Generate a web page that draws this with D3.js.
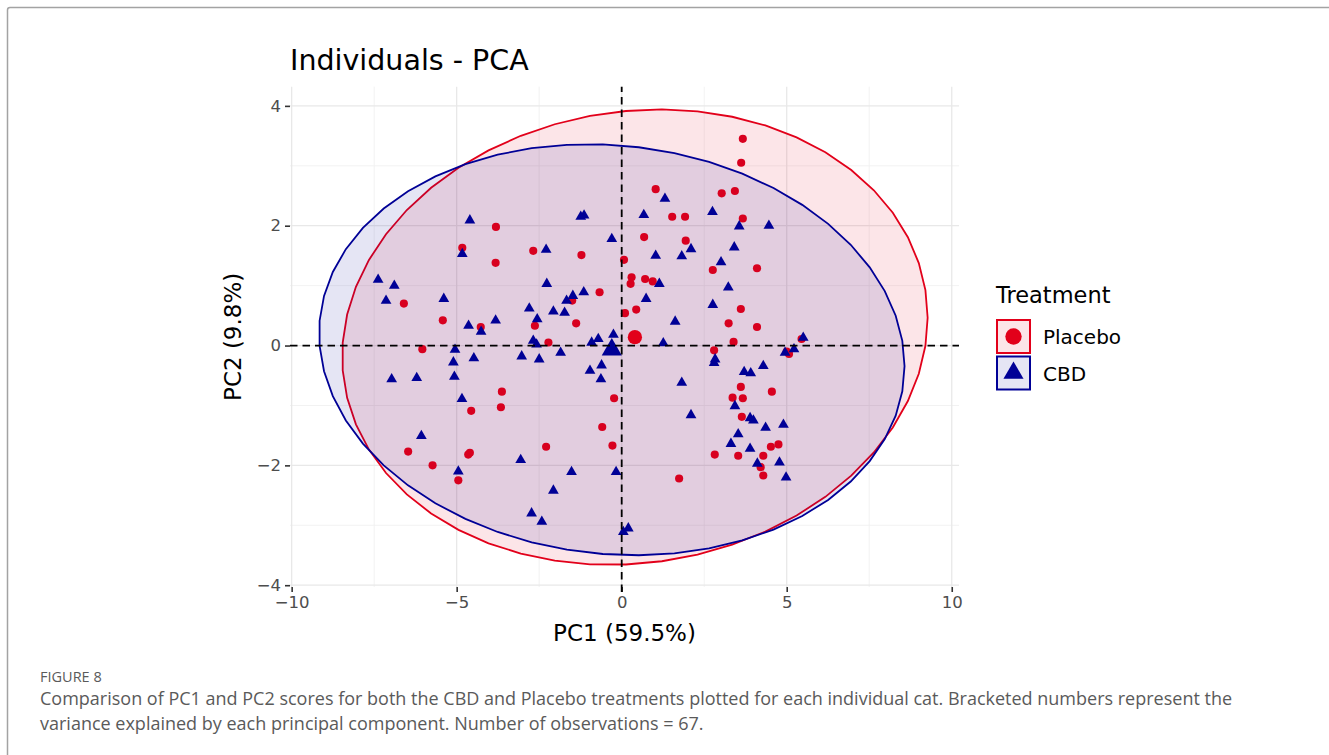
<!DOCTYPE html>
<html lang="en">
<head>
  <meta charset="utf-8">
  <title>Individuals - PCA</title>
  <script src="https://d3js.org/d3.v7.min.js"></script>
  <style>
    body { margin: 0; background: #fff; }
    svg { display: block; }
  </style>
</head>
<body>
<svg id="chart" width="1329" height="755"></svg>
<script>
// scores
const placeboPC1 = [-6.60, -5.42, -3.81, -4.83, -3.82, -2.68, -1.22, 0.07, -2.63, -1.50, -0.67, -1.38, -4.27, 0.10, -2.22, -6.04,
  -4.56, -3.63, -3.66, -6.47, -5.73, -4.65, -4.60, -4.95, -2.29, -0.23, -0.59, -0.28,
  3.67, 3.62, 1.03, 3.03, 3.43, 1.53, 1.92, 3.67, 0.68, 1.94, 2.76, 4.10, 0.30, 0.27, 0.71, 0.94, 3.61, 0.44, 3.24, 4.10, 3.39,
  2.80, 4.55, 3.61, 3.36, 3.67, 3.64, 2.82, 3.53, 4.29, 4.52, 4.75, 4.21, 4.29, 1.74, 5.00, 5.07, 5.45];
const placeboPC2 = [0.70, 0.42, 1.98, 1.63, 1.38, 1.58, 1.51, 1.43, 0.33, 0.75, 0.89, 0.37, 0.31, 0.54, 0.05, -0.06,
  -1.09, -0.77, -1.03, -1.77, -2.00, -1.82, -1.79, -2.25, -1.69, -0.88, -1.36, -1.67,
  3.45, 3.05, 2.61, 2.54, 2.58, 2.15, 2.15, 2.12, 1.81, 1.75, 1.26, 1.29, 1.14, 1.03, 1.11, 1.07, 0.61, 0.60, 0.37, 0.31, 0.06,
  -0.08, -0.77, -0.69, -0.87, -0.88, -1.19, -1.82, -1.84, -1.84, -1.69, -1.65, -2.03, -2.17, -2.22, -0.10, -0.14, 0.11];

const cbdPC1 = [-7.38, -6.89, -7.14, -5.39, -4.60, -4.83, -2.29, -1.24, -1.14, -0.30, -2.27, -2.80, -2.56, -2.07, -1.73, -1.67,
  -1.48, -1.15, -4.64, -4.26, -3.82, -2.68, -2.58, -0.91, -0.71, -0.25,
  -5.05, -5.10, -5.07, -4.48, -6.97, -6.21, -4.84, -6.07, -4.95, -3.06, -1.52, -2.07, -2.73, -2.42, -0.17, -3.03, -2.50, -1.85,
  -0.96, -0.61, -0.63, 0.05, 0.20,
  1.31, 0.67, 2.75, 3.56, 4.46, 2.10, 1.82, 1.03, 3.41, 3.01, 1.14, 3.23, 0.74, 2.76, 1.62, 1.26, 5.50,
  2.83, 2.80, 3.71, 3.91, 4.29, 1.82, 2.10, 3.43, 3.89, 3.99, 4.36, 4.90, 3.53, 3.31, 3.89, 4.11, 4.78, 4.98, 4.95, 5.22];
const cbdPC2 = [1.10, 1.00, 0.75, 0.78, 2.09, 1.53, 1.60, 2.15, 2.17, 1.78, 1.03, 0.62, 0.44, 0.57, 0.55, 0.75,
  0.83, 0.89, 0.33, 0.23, 0.42, 0.08, 0.02, 0.05, 0.11, 0.18,
  -0.07, -0.28, -0.52, -0.21, -0.56, -0.54, -0.89, -1.51, -2.10, -1.91, -2.11, -2.42, -2.80, -2.94, -2.11, -0.18, -0.23, -0.12,
  -0.42, -0.33, -0.56, -3.11, -3.05,
  2.45, 2.18, 2.23, 1.99, 2.00, 1.61, 1.49, 1.50, 1.64, 1.39, 1.03, 0.97, 0.78, 0.68, 0.40, 0.04, 0.13,
  -0.23, -0.29, -0.44, -0.46, -0.34, -0.62, -1.16, -1.01, -1.21, -1.25, -1.37, -1.32, -1.48, -1.64, -1.72, -1.97, -1.95, -2.20, -0.12, -0.06];

const groups = ["Placebo", "CBD"];
const centroidPC1 = [0.40, -0.30];
const centroidPC2 = [0.14, -0.07];
// ellipse half-extent along PC1 / PC2 and correlation
const ellipseA = [8.87, 8.87];
const ellipseB = [3.80, 3.43];
const ellipseRho = [0.085, -0.08];

const xTicks = [-10, -5, 0, 5, 10];
const yTicks = [-4, -2, 0, 2, 4];
const xMinor = [-7.5, -2.5, 2.5, 7.5];
const yMinor = [-3, -1, 1, 3];

const colors = { Placebo: "#e2001a", CBD: "#000096" };

const svg = d3.select("#chart");
const x = d3.scaleLinear().domain([-10.05, 10.22]).range([290, 959]);
const y = d3.scaleLinear().domain([-4.03, 4.32]).range([587, 86.7]);
const fmt = d => d < 0 ? "\u2212" + Math.abs(d) : String(d);

// frame around the figure
svg.append("path")
  .attr("d", "M7.5,760 L7.5,10 Q7.5,7.5 10,7.5 L1335,7.5")
  .attr("fill", "none").attr("stroke", "#a3a3a3").attr("stroke-width", 1.5);

// grid
const grid = svg.append("g");
grid.selectAll(".vmin").data(xMinor).enter().append("line")
  .attr("x1", d => x(d)).attr("x2", d => x(d)).attr("y1", y.range()[0]).attr("y2", y.range()[1])
  .attr("stroke", "#f0f0f0").attr("stroke-width", 0.9);
grid.selectAll(".hmin").data(yMinor).enter().append("line")
  .attr("y1", d => y(d)).attr("y2", d => y(d)).attr("x1", x.range()[0]).attr("x2", x.range()[1])
  .attr("stroke", "#f0f0f0").attr("stroke-width", 0.9);
grid.selectAll(".vmaj").data(xTicks).enter().append("line")
  .attr("x1", d => x(d)).attr("x2", d => x(d)).attr("y1", y.range()[0]).attr("y2", y.range()[1])
  .attr("stroke", "#e8e8e8").attr("stroke-width", 1.3);
grid.selectAll(".hmaj").data(yTicks).enter().append("line")
  .attr("y1", d => y(d)).attr("y2", d => y(d)).attr("x1", x.range()[0]).attr("x2", x.range()[1])
  .attr("stroke", "#e8e8e8").attr("stroke-width", 1.3);

// axes
const xAxis = svg.append("g").attr("transform", `translate(0,${y.range()[0]})`)
  .call(d3.axisBottom(x).tickValues(xTicks).tickFormat(fmt).tickSize(5).tickPadding(4));
const yAxis = svg.append("g").attr("transform", `translate(${x.range()[0]},0)`)
  .call(d3.axisLeft(y).tickValues(yTicks).tickFormat(fmt).tickSize(5).tickPadding(4));
[xAxis, yAxis].forEach(a => {
  a.select(".domain").remove();
  a.selectAll(".tick line").attr("stroke", "#333").attr("stroke-width", 1.6);
  a.selectAll(".tick text").attr("fill", "#4d4d4d")
    .style("font-family", "DejaVu Sans").style("font-size", "16.5px");
});

// confidence ellipses
const ellipse = d3.line().x(p => x(p[0])).y(p => y(p[1])).curve(d3.curveLinearClosed);
groups.forEach((g, i) => {
  const pts = d3.range(51).map(k => {
    const t = 2 * Math.PI * k / 51;
    const r = ellipseRho[i];
    return [centroidPC1[i] + ellipseA[i] * Math.cos(t),
            centroidPC2[i] + ellipseB[i] * (r * Math.cos(t) + Math.sqrt(1 - r * r) * Math.sin(t))];
  });
  svg.append("path").attr("d", ellipse(pts))
    .attr("fill", colors[g]).attr("fill-opacity", 0.1)
    .attr("stroke", colors[g]).attr("stroke-width", 1.8);
});

// individuals
const circle = d3.symbol().type(d3.symbolCircle).size(52);
const tri = d3.symbol().type(d3.symbolTriangle).size(50);
svg.append("g").selectAll("path").data(d3.zip(placeboPC1, placeboPC2)).enter().append("path")
  .attr("d", circle).attr("transform", d => `translate(${x(d[0])},${y(d[1])})`)
  .attr("fill", "#d8001f");
svg.append("g").selectAll("path").data(d3.zip(cbdPC1, cbdPC2)).enter().append("path")
  .attr("d", tri).attr("transform", d => `translate(${x(d[0])},${y(d[1])})`)
  .attr("fill", colors.CBD);

// group means
svg.append("path").attr("d", d3.symbol().type(d3.symbolCircle).size(160)())
  .attr("transform", `translate(${x(centroidPC1[0])},${y(centroidPC2[0])})`).attr("fill", colors.Placebo);
svg.append("path").attr("d", d3.symbol().type(d3.symbolTriangle).size(175)())
  .attr("transform", `translate(${x(centroidPC1[1])},${y(centroidPC2[1])})`).attr("fill", colors.CBD);

// zero lines
svg.append("line").attr("x1", x.range()[0]).attr("x2", x.range()[1]).attr("y1", y(0)).attr("y2", y(0))
  .attr("stroke", "#000").attr("stroke-width", 1.8).attr("stroke-dasharray", "7.5,5");
svg.append("line").attr("x1", x(0)).attr("x2", x(0)).attr("y1", y.range()[0] + 5).attr("y2", y.range()[1])
  .attr("stroke", "#000").attr("stroke-width", 1.8).attr("stroke-dasharray", "7.5,5");

// titles
svg.append("text").attr("x", 290).attr("y", 70).text("Individuals - PCA")
  .style("font-family", "DejaVu Sans").style("font-size", "28.5px").attr("fill", "#000");
svg.append("text").attr("x", (x.range()[0] + x.range()[1]) / 2).attr("y", 641).attr("text-anchor", "middle")
  .text("PC1 (59.5%)").style("font-family", "DejaVu Sans").style("font-size", "23px");
svg.append("text").attr("transform", `translate(241,${(y.range()[0] + y.range()[1]) / 2}) rotate(-90)`)
  .attr("text-anchor", "middle").text("PC2 (9.8%)")
  .style("font-family", "DejaVu Sans").style("font-size", "23px");

// legend
const legend = svg.append("g").attr("transform", "translate(996,0)");
legend.append("text").attr("x", 0).attr("y", 303).text("Treatment")
  .style("font-family", "DejaVu Sans").style("font-size", "22.5px");
groups.forEach((g, i) => {
  const top = 320 + i * 36.5;
  legend.append("rect").attr("x", 1).attr("y", top).attr("width", 33).attr("height", 33)
    .attr("fill", colors[g]).attr("fill-opacity", 0.1)
    .attr("stroke", colors[g]).attr("stroke-width", 2);
  legend.append("path")
    .attr("d", d3.symbol().type(i === 0 ? d3.symbolCircle : d3.symbolTriangle).size(i === 0 ? 210 : 175)())
    .attr("transform", `translate(17.5,${top + 16.5})`).attr("fill", colors[g]);
  legend.append("text").attr("x", 47).attr("y", top + 24).text(g)
    .style("font-family", "DejaVu Sans").style("font-size", "20px");
});

// caption
svg.append("text").attr("x", 40).attr("y", 682).text("FIGURE 8")
  .style("font-family", "Open Sans").style("font-size", "14.5px").attr("fill", "#5a5a5a");
svg.append("text").attr("x", 40).attr("y", 705)
  .text("Comparison of PC1 and PC2 scores for both the CBD and Placebo treatments plotted for each individual cat. Bracketed numbers represent the")
  .style("font-family", "Open Sans").style("font-size", "18px").attr("fill", "#5a5a5a");
svg.append("text").attr("x", 40).attr("y", 730)
  .text("variance explained by each principal component. Number of observations = 67.")
  .style("font-family", "Open Sans").style("font-size", "18px").attr("fill", "#5a5a5a");
</script>
</body>
</html>
